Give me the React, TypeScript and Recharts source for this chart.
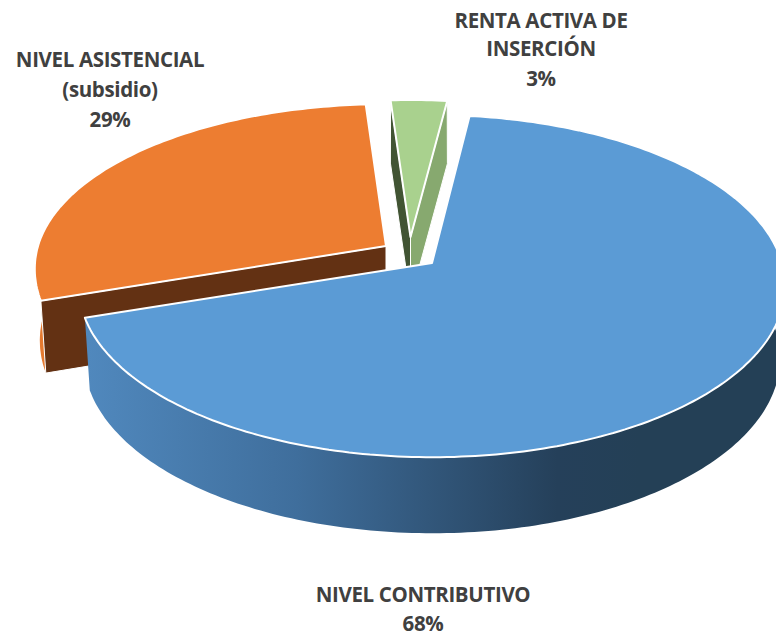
import React from "react";
import { PieChart, Pie } from "recharts";

const sliceNames = ["NIVEL ASISTENCIAL", "RENTA ACTIVA DE INSERCIÓN", "NIVEL CONTRIBUTIVO"];
const sliceValues = [29, 3, 68];
const percentLabels = ["29%", "3%", "68%"];
const data = sliceNames.map((name, i) => ({ name, value: sliceValues[i] }));

const FIRST_ANGLE = 198.2;

type Geom = {
  ax: number; ay: number; p: number; r: number; k: number; kb: number;
  d: number; r2: number; k2: number; top: string;
};
const geomByName: Record<string, Geom> = {
  "NIVEL ASISTENCIAL": { ax: 386, ay: 246, p: 0.135, r: 348, k: 168, kb: 161, d: 71, r2: 343, k2: 172, top: "#ed7d31" },
  "RENTA ACTIVA DE INSERCIÓN": { ax: 410.5, ay: 237, p: 0.19, r: 358, k: 163, kb: 163, d: 62, r2: 360, k2: 162, top: "#a9d18e" },
  "NIVEL CONTRIBUTIVO": { ax: 432, ay: 263, p: 0.135, r: 350, k: 168, kb: 168, d: 71.4, r2: 345, k2: 172, top: "#5b9bd5" },
};

const labelLines: Record<string, { x: number; ys: number[]; lines: string[] }> = {
  "NIVEL ASISTENCIAL": { x: 110, ys: [67, 97, 127], lines: ["NIVEL ASISTENCIAL", "(subsidio)", percentLabels[0]] },
  "RENTA ACTIVA DE INSERCIÓN": { x: 541, ys: [28, 56, 86], lines: ["RENTA ACTIVA DE", "INSERCIÓN", percentLabels[1]] },
  "NIVEL CONTRIBUTIVO": { x: 423, ys: [602, 631], lines: ["NIVEL CONTRIBUTIVO", percentLabels[2]] },
};

const project = (g: Geom, deg: number, lower = false): [number, number] => {
  const t = (deg * Math.PI) / 180;
  const u = Math.cos(t);
  const v = -Math.sin(t);
  const f = 1 / (1 - g.p * v);
  if (lower) return [g.ax + g.r2 * u * f, g.ay + g.d + g.k2 * v * f];
  return [g.ax + g.r * u * f, g.ay + (v < 0 ? g.kb : g.k) * v * f];
};

const arc = (g: Geom, from: number, to: number, lower = false): [number, number][] => {
  const n = Math.max(2, Math.ceil(Math.abs(to - from)));
  const pts: [number, number][] = [];
  for (let i = 0; i <= n; i++) pts.push(project(g, from + ((to - from) * i) / n, lower));
  return pts;
};

const toPath = (pts: [number, number][]) =>
  "M" + pts.map((p) => `${p[0].toFixed(1)},${p[1].toFixed(1)}`).join("L") + "Z";

const SliceShape = (props: any) => {
  const name = props.name ?? props.payload?.name;
  const g = geomByName[name];
  const a0 = props.startAngle as number;
  const a1 = props.endAngle as number;
  const apex: [number, number] = [g.ax, g.ay];
  const apexLow: [number, number] = [g.ax, g.ay + g.d];
  const top = toPath([apex, ...arc(g, a0, a1)]);
  const edge = { stroke: "#ffffff", strokeWidth: 1, strokeLinejoin: "round" as const };

  if (name === sliceNames[0]) {
    const wallFrom = a0;
    const wallTo = 175;
    const wall = toPath([...arc(g, wallFrom, wallTo), ...arc(g, wallTo, wallFrom, true)]);
    const face = toPath([apex, project(g, a0), project(g, a0, true), apexLow]);
    return (
      <g>
        <path d={wall} fill="#e57a30" />
        <path d={face} fill="#633113" {...edge} />
        <path d={top} fill={g.top} stroke="#ffffff" strokeWidth={2} strokeLinejoin="round" />
      </g>
    );
  }
  if (name === sliceNames[1]) {
    const left = toPath([apex, project(g, a0), project(g, a0, true), apexLow]);
    const right = toPath([apex, project(g, a1), project(g, a1, true), apexLow]);
    return (
      <g>
        <path d={right} fill="#87a96f" {...edge} />
        <path d={left} fill="#415433" {...edge} />
        <path d={top} fill={g.top} stroke="#ffffff" strokeWidth={2} strokeLinejoin="round" />
      </g>
    );
  }
  const wall = toPath([...arc(g, 8, a1), ...arc(g, a1, 8, true)]);
  return (
    <g>
      <defs>
        <linearGradient id="blueWall" gradientUnits="userSpaceOnUse" x1={88} y1={0} x2={640} y2={0}>
          <stop offset="0" stopColor="#5088bd" />
          <stop offset="0.38" stopColor="#3f6e9c" />
          <stop offset="0.85" stopColor="#25405a" />
          <stop offset="1" stopColor="#244056" />
        </linearGradient>
      </defs>
      <path d={wall} fill="url(#blueWall)" />
      <path d={top} fill={g.top} stroke="#ffffff" strokeWidth={2} strokeLinejoin="round" />
    </g>
  );
};

const SliceLabel = (props: any) => {
  const name = props.name ?? props.payload?.name;
  const l = labelLines[name];
  return (
    <text textAnchor="middle" fontFamily="'Open Sans', sans-serif" fontWeight={700} fontSize={20.5} letterSpacing={-0.35} fill="#404040">
      {l.lines.map((line, i) => (
        <tspan key={i} x={l.x} y={l.ys[i]}>{line}</tspan>
      ))}
    </text>
  );
};

export default function App() {
  return (
    <div style={{ position: "absolute", left: 0, top: 0, width: 776, height: 634, overflow: "hidden", background: "#fff" }}>
      <PieChart width={776} height={634} margin={{ top: 0, right: 0, bottom: 0, left: 0 }}>
        <Pie
          data={data}
          dataKey="value"
          nameKey="name"
          cx={432}
          cy={263}
          outerRadius={200}
          startAngle={FIRST_ANGLE}
          endAngle={FIRST_ANGLE - 360}
          paddingAngle={0}
          stroke="none"
          isAnimationActive={false}
          shape={SliceShape}
          activeShape={SliceShape}
          label={SliceLabel}
          labelLine={false}
        />
      </PieChart>
    </div>
  );
}
